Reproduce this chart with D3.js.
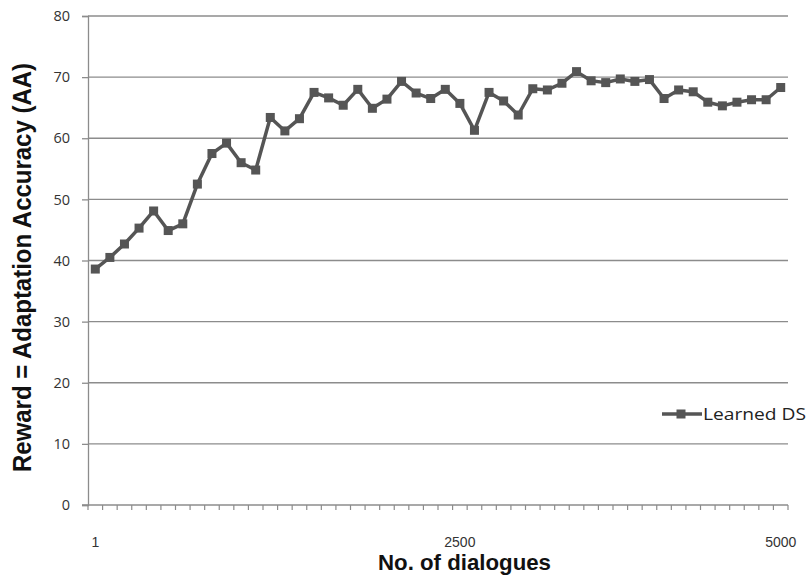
<!DOCTYPE html>
<html><head><meta charset="utf-8">
<script src="https://cdn.jsdelivr.net/npm/d3@7"></script>
<style>body{margin:0;background:#fff}svg{display:block}</style>
</head><body>
<svg id="c" width="807" height="582"></svg>
<script>
const seriesName = "Learned DS";
const values = [38.6,40.5,42.7,45.3,48.1,44.9,46.0,52.5,57.5,59.2,56.0,54.8,63.4,61.2,63.2,67.5,66.6,65.4,68.0,64.9,66.4,69.3,67.4,66.5,68.0,65.7,61.3,67.5,66.1,63.8,68.1,67.9,69.0,70.9,69.4,69.1,69.7,69.3,69.6,66.5,67.9,67.6,65.9,65.3,65.9,66.3,66.3,68.3];
const categories = values.map((d,i)=>i);
const xTickLabels = [{i:0,label:"1"},{i:25,label:"2500"},{i:47,label:"5000"}];
const yTicks = [0,10,20,30,40,50,60,70,80];
const xTitle = "No. of dialogues";
const yTitle = "Reward = Adaptation Accuracy (AA)";

const svg = d3.select("#c");
const L=88, R=788, T=16, B=505;
const x = d3.scaleBand().domain(categories).range([L,R]).padding(0);
const y = d3.scaleLinear().domain([0,80]).range([B,T]);
const cx = i => x(i)+x.bandwidth()/2;
const grid="#8c8c8c";

// gridlines
svg.append("g").selectAll("line").data(yTicks.filter(d=>d>0)).join("line")
  .attr("x1",L).attr("x2",R).attr("y1",d=>y(d)).attr("y2",d=>y(d))
  .attr("stroke",grid).attr("stroke-width",1.3);

// y axis
const ya = svg.append("g").attr("transform",`translate(${L},0)`).call(d3.axisLeft(y).tickValues(yTicks).tickSize(6).tickPadding(12));
ya.select(".domain").attr("stroke",grid).attr("stroke-width",1.3);
ya.selectAll(".tick line").attr("stroke",grid).attr("stroke-width",1.3);
ya.selectAll("text").attr("font-family","'Open Sans',sans-serif").attr("font-size",14.5).attr("fill","#333");

// x axis
svg.append("line").attr("x1",L-6).attr("x2",R).attr("y1",B).attr("y2",B).attr("stroke",grid).attr("stroke-width",1.3);
const bounds = categories.map(i=>x(i)).concat([R]);
svg.append("g").selectAll("line").data(bounds).join("line")
  .attr("x1",d=>d).attr("x2",d=>d).attr("y1",B).attr("y2",B+5)
  .attr("stroke",grid).attr("stroke-width",1.2);
svg.append("g").selectAll("text").data(xTickLabels).join("text")
  .attr("x",d=>cx(d.i)).attr("y",547).attr("text-anchor","middle")
  .attr("font-family","'Liberation Sans',Arial,sans-serif").attr("font-size",14).attr("fill","#333")
  .text(d=>d.label);

// titles
svg.append("text").attr("x",464.5).attr("y",570).attr("text-anchor","middle")
  .attr("font-family","'Liberation Sans',Arial,sans-serif").attr("font-weight","bold").attr("font-size",22.5).attr("fill","#111")
  .attr("textLength",173).attr("lengthAdjust","spacingAndGlyphs")
  .text(xTitle);
svg.append("text").attr("transform","translate(31,267.5) rotate(-90)").attr("text-anchor","middle")
  .attr("font-family","'Liberation Sans',Arial,sans-serif").attr("font-weight","bold").attr("font-size",26).attr("fill","#111")
  .attr("textLength",409).attr("lengthAdjust","spacingAndGlyphs")
  .text(yTitle);

// line
const col="#555555";
svg.append("path").datum(values)
  .attr("d",d3.line().x((d,i)=>cx(i)).y(d=>y(d)))
  .attr("fill","none").attr("stroke",col).attr("stroke-width",3.5).attr("stroke-linejoin","round");
svg.append("g").selectAll("rect").data(values).join("rect")
  .attr("x",(d,i)=>cx(i)-4.5).attr("y",d=>y(d)-4.5).attr("width",9).attr("height",9).attr("fill",col);

// legend
svg.append("line").attr("x1",662).attr("x2",702).attr("y1",414).attr("y2",414).attr("stroke",col).attr("stroke-width",3.5);
svg.append("rect").attr("x",681-4.5).attr("y",414-4.5).attr("width",9).attr("height",9).attr("fill",col);
svg.append("text").attr("x",703).attr("y",419.5).attr("font-family","'Open Sans',sans-serif").attr("font-size",16).attr("fill","#222")
  .attr("textLength",103).attr("lengthAdjust","spacingAndGlyphs").text(seriesName);
</script>
</body></html>
